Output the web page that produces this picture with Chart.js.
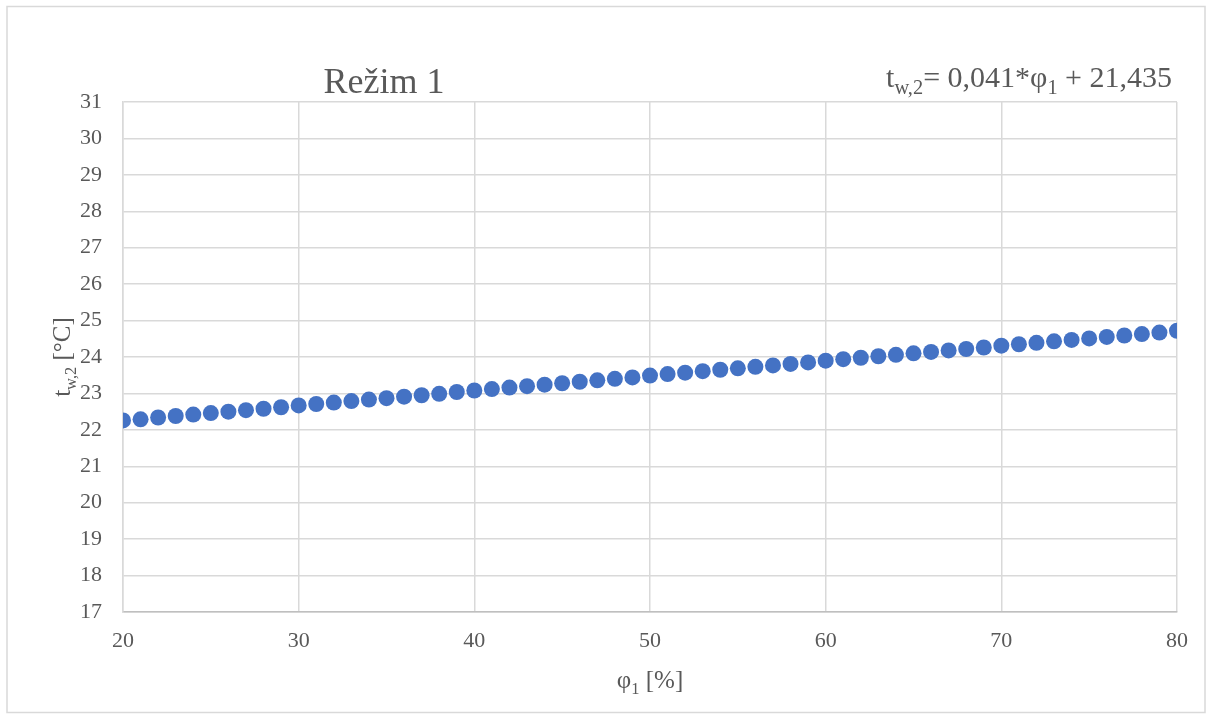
<!DOCTYPE html>
<html>
<head>
<meta charset="utf-8">
<script src="https://cdn.jsdelivr.net/npm/chart.js@4"></script>
<style>
html,body{margin:0;padding:0;background:#fff;}
#wrap{width:1212px;height:720px;}
</style>
</head>
<body>
<div id="wrap"><canvas id="c" width="1212" height="720"></canvas></div>
<script>
const phi = [20,21,22,23,24,25,26,27,28,29,30,31,32,33,34,35,36,37,38,39,40,41,42,43,44,45,46,47,48,49,50,51,52,53,54,55,56,57,58,59,60,61,62,63,64,65,66,67,68,69,70,71,72,73,74,75,76,77,78,79,80];
const tw2 = [22.26,22.29,22.34,22.38,22.42,22.46,22.50,22.54,22.58,22.62,22.67,22.71,22.75,22.79,22.83,22.87,22.91,22.95,22.99,23.04,23.08,23.12,23.16,23.20,23.24,23.28,23.32,23.36,23.40,23.44,23.49,23.53,23.57,23.61,23.65,23.69,23.73,23.77,23.81,23.85,23.90,23.94,23.98,24.02,24.06,24.10,24.14,24.18,24.22,24.26,24.31,24.35,24.39,24.43,24.47,24.51,24.55,24.59,24.63,24.67,24.72];
const chartTitle = 'Režim 1';
const eqParts = [['t',0],['w,2',1],['= 0,041*φ',0],['1',1],[' + 21,435',0]];
const xTitleParts = [['φ',0],['1',1],[' [%]',0]];
const yTitleParts = [['t',0],['w,2',1],[' [°C]',0]];

const FONT = '"Liberation Serif", "Times New Roman", serif';
const TXT = '#595959';

function richWidth(ctx, parts, size, r){
  let w=0;
  for(const [t,s] of parts){ctx.font=(s?size*r:size)+'px '+FONT; w+=ctx.measureText(t).width;}
  return w;
}
function drawRich(ctx, parts, x, y, size, r){
  ctx.textBaseline='alphabetic'; ctx.textAlign='left';
  let cx=x;
  for(const [t,s] of parts){
    const fs = s?size*r:size;
    ctx.font=fs+'px '+FONT;
    ctx.fillText(t,cx,y+(s?size*0.22:0));
    cx+=ctx.measureText(t).width;
  }
}

const deco = {
  id:'deco',
  afterDraw(chart){
    const ctx=chart.ctx; const a=chart.chartArea;
    ctx.save();
    ctx.strokeStyle='#D9D9D9'; ctx.lineWidth=1.5;
    ctx.strokeRect(7,6.5,1198,706);
    ctx.fillStyle=TXT;
    ctx.font='36px '+FONT; ctx.textAlign='center'; ctx.textBaseline='alphabetic';
    ctx.fillText(chartTitle,384,93);
    const eqSize=30, er=0.68;
    const ew=richWidth(ctx,eqParts,eqSize,er);
    drawRich(ctx,eqParts,a.right-5-ew,87,eqSize,er);
    const xs=25, xr=0.66;
    const xw=richWidth(ctx,xTitleParts,xs,xr);
    drawRich(ctx,xTitleParts,(a.left+a.right)/2-xw/2,688,xs,xr);
    const yw=richWidth(ctx,yTitleParts,xs,xr);
    ctx.translate(70,(a.top+a.bottom)/2);
    ctx.rotate(-Math.PI/2);
    drawRich(ctx,yTitleParts,-yw/2,0,xs,xr);
    ctx.restore();
  }
};

new Chart(document.getElementById('c'),{
  type:'scatter',
  data:{datasets:[{
    data: phi.map((x,i)=>({x:x,y:tw2[i]})),
    backgroundColor:'#4472C4',
    borderColor:'#4472C4',
    borderWidth:0,
    pointRadius:8,
    pointHoverRadius:8
  }]},
  options:{
    responsive:false,
    animation:false,
    devicePixelRatio:1,
    layout:{padding:{left:0,top:102,right:35,bottom:0}},
    plugins:{legend:{display:false},tooltip:{enabled:false},title:{display:false}},
    scales:{
      x:{
        type:'linear', min:20, max:80,
        ticks:{stepSize:10, color:TXT, font:{family:FONT,size:22}, padding:16, maxRotation:0},
        grid:{color:'#D9D9D9', lineWidth:1.5, drawTicks:false, tickLength:0},
        border:{color:'#BFBFBF', width:1.5},
        afterFit(s){s.height=108;}
      },
      y:{
        type:'linear', min:17, max:31,
        ticks:{stepSize:1, color:TXT, font:{family:FONT,size:22}, padding:21},
        grid:{color:'#D9D9D9', lineWidth:1.5, drawTicks:false, tickLength:0},
        border:{color:'#D9D9D9', width:1.5},
        afterFit(s){s.width=123;}
      }
    }
  },
  plugins:[deco]
});
</script>
</body>
</html>
